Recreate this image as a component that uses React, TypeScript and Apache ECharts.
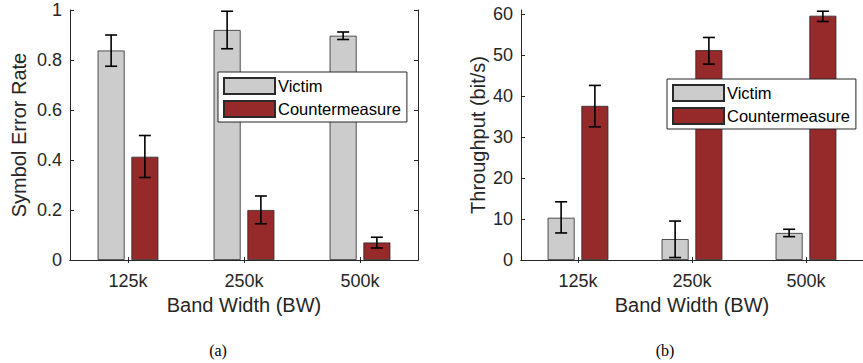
import React, { useEffect, useRef } from "react";
import * as echarts from "echarts";

// Bandwidth categories shared by both panels
const bandwidths = ["125k", "250k", "500k"];

// (a) Symbol error rate
const serVictim = [0.838, 0.92, 0.897];
const serVictimLow = [0.775, 0.845, 0.882];
const serVictimHigh = [0.9, 0.995, 0.912];
const serCounter = [0.413, 0.2, 0.07];
const serCounterLow = [0.33, 0.145, 0.048];
const serCounterHigh = [0.498, 0.256, 0.091];

// (b) Throughput in bit/s
const tpVictim = [10.3, 5.1, 6.6];
const tpVictimLow = [6.6, 0.6, 5.7];
const tpVictimHigh = [14.2, 9.5, 7.5];
const tpCounter = [37.6, 51.2, 59.6];
const tpCounterLow = [32.5, 47.8, 58.2];
const tpCounterHigh = [42.6, 54.3, 60.7];

const GRAY = "#cccccc";
const RED = "#962929";
const INK = "#262626";
const FONT = "'Liberation Sans', Arial, sans-serif";

const BAR_W = 27;
const BAR_GAP = 0.25; // fraction of bar width
const HALF_STEP = (BAR_W * (1 + BAR_GAP)) / 2;

type Grid = { left: number; width: number };
const grids: Grid[] = [
  { left: 70, width: 348 },
  { left: 521, width: 351 },
];

function errorSeries(
  axisIdx: number,
  low: number[],
  high: number[],
  offset: number
) {
  return {
    type: "custom",
    xAxisIndex: axisIdx * 2,
    yAxisIndex: axisIdx * 2,
    silent: true,
    z: 10,
    data: low.map((l, i) => [i, l, high[i]]),
    renderItem: (_params: any, api: any) => {
      const i = api.value(0);
      const lo = api.coord([i, api.value(1)]);
      const hi = api.coord([i, api.value(2)]);
      const x = lo[0] + offset;
      const cap = 6;
      const style = { stroke: "#000", lineWidth: 1.6 };
      return {
        type: "group",
        children: [
          { type: "line", shape: { x1: x, y1: lo[1], x2: x, y2: hi[1] }, style },
          { type: "line", shape: { x1: x - cap, y1: lo[1], x2: x + cap, y2: lo[1] }, style },
          { type: "line", shape: { x1: x - cap, y1: hi[1], x2: x + cap, y2: hi[1] }, style },
        ],
      };
    },
  };
}

function barSeries(axisIdx: number, name: string, data: number[], color: string) {
  return {
    type: "bar",
    name,
    xAxisIndex: axisIdx * 2,
    yAxisIndex: axisIdx * 2,
    data,
    barWidth: BAR_W,
    barGap: `${BAR_GAP * 100}%`,
    itemStyle: { color, borderColor: "#2a2a2a", borderWidth: 0.8 },
  };
}

function axesFor(
  idx: number,
  min: number,
  max: number,
  interval: number,
  showMax: boolean,
  yName: string,
  yGap: number,
  rightFrame: boolean
) {
  const line = { show: true, lineStyle: { color: INK, width: 1 } };
  const xs = [
    {
      type: "category",
      gridIndex: idx,
      data: bandwidths,
      position: "bottom",
      axisLine: line,
      axisTick: { show: true, inside: true, alignWithLabel: true, length: 3, lineStyle: { color: INK } },
      axisLabel: { color: INK, fontSize: 18, fontFamily: FONT, margin: 12 },
      name: "Band Width (BW)",
      nameLocation: "middle",
      nameGap: 34,
      nameTextStyle: { color: INK, fontSize: 20, fontFamily: FONT },
    },
    {
      type: "category",
      gridIndex: idx,
      data: bandwidths,
      position: "top",
      axisLine: line,
      axisTick: { show: true, inside: true, alignWithLabel: true, length: 3, lineStyle: { color: INK } },
      axisLabel: { show: false },
    },
  ];
  const ys = [
    {
      type: "value",
      gridIndex: idx,
      min,
      max,
      interval,
      position: "left",
      splitLine: { show: false },
      axisLine: line,
      axisTick: { show: true, inside: true, length: 4, lineStyle: { color: INK } },
      axisLabel: { color: INK, fontSize: 18, fontFamily: FONT, margin: 8, showMaxLabel: showMax },
      name: yName,
      nameLocation: "middle",
      nameGap: yGap,
      nameTextStyle: { color: INK, fontSize: 20, fontFamily: FONT },
    },
    {
      type: "value",
      gridIndex: idx,
      min,
      max,
      interval,
      position: "right",
      splitLine: { show: false },
      axisLine: { ...line, show: rightFrame },
      axisTick: { show: rightFrame, inside: true, length: 4, lineStyle: { color: INK } },
      axisLabel: { show: false },
    },
  ];
  return { xs, ys };
}

export default function App() {
  const ref = useRef<HTMLDivElement>(null);

  useEffect(() => {
    if (!ref.current) return;
    const chart = echarts.init(ref.current, null, { renderer: "svg" });
    const a = axesFor(0, 0, 1, 0.2, true, "Symbol Error Rate", 41, true);
    const b = axesFor(1, 0, 61, 10, false, "Throughput (bit/s)", 33, false);

    const legendBase = {
      orient: "vertical",
      data: ["Victim", "Countermeasure"],
      itemWidth: 51,
      itemHeight: 16,
      itemGap: 5,
      padding: [5, 6, 4, 5],
      backgroundColor: "#fff",
      borderColor: INK,
      borderWidth: 1,
      borderRadius: 0,
      icon: "rect",
      selectedMode: false,
      textStyle: { color: "#000", fontSize: 16.5, fontFamily: FONT, padding: [0, 0, 0, -2] },
      z: 20,
    };

    chart.setOption({
      animation: false,
      backgroundColor: "#fff",
      grid: grids.map((g) => ({ left: g.left, width: g.width, top: 10, height: 250 })),
      xAxis: [...a.xs, ...b.xs],
      yAxis: [...a.ys, ...b.ys],
      legend: [
        { ...legendBase, left: 218, top: 72 },
        { ...legendBase, left: 667, top: 79 },
      ],
      series: [
        barSeries(0, "Victim", serVictim, GRAY),
        barSeries(0, "Countermeasure", serCounter, RED),
        errorSeries(0, serVictimLow, serVictimHigh, -HALF_STEP),
        errorSeries(0, serCounterLow, serCounterHigh, HALF_STEP),
        barSeries(1, "Victim", tpVictim, GRAY),
        barSeries(1, "Countermeasure", tpCounter, RED),
        errorSeries(1, tpVictimLow, tpVictimHigh, -HALF_STEP),
        errorSeries(1, tpCounterLow, tpCounterHigh, HALF_STEP),
      ],
      graphic: [
        {
          type: "text",
          x: 218,
          y: 350,
          style: { text: "(a)", font: "16px 'Liberation Serif', serif", fill: "#000", textAlign: "center", textVerticalAlign: "middle" },
        },
        {
          type: "text",
          x: 665,
          y: 350,
          style: { text: "(b)", font: "16px 'Liberation Serif', serif", fill: "#000", textAlign: "center", textVerticalAlign: "middle" },
        },
      ],
    });
    return () => chart.dispose();
  }, []);

  return (
    <div
      ref={ref}
      style={{ position: "fixed", left: 0, top: 0, width: 863, height: 363, background: "#fff" }}
    />
  );
}
